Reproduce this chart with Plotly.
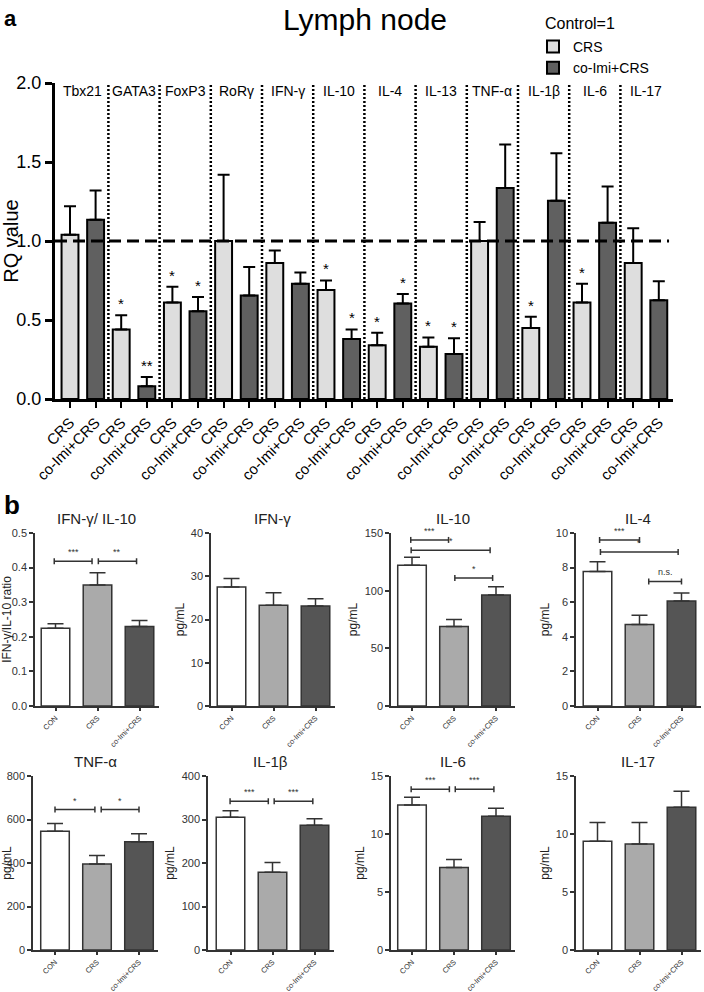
"""Lymph node RQ values (a) and cytokine levels (b) rebuilt with plotly."""

import plotly.graph_objects as go

W, H = 704, 992
FONT = "Liberation Sans, Arial, sans-serif"

# ---- panel a data -------------------------------------------------------
genes = ["Tbx21", "GATA3", "FoxP3", "RoR\u03b3", "IFN-\u03b3", "IL-10",
         "IL-4", "IL-13", "TNF-\u03b1", "IL-1\u03b2", "IL-6", "IL-17"]
crs_rq = [1.04, 0.44, 0.61, 1.00, 0.86, 0.69, 0.34, 0.33, 1.00, 0.45, 0.61, 0.86]
crs_err = [0.18, 0.09, 0.10, 0.42, 0.08, 0.06, 0.08, 0.06, 0.12, 0.07, 0.12, 0.22]
coimi_rq = [1.135, 0.08, 0.555, 0.655, 0.73, 0.38, 0.605, 0.285, 1.335, 1.255, 1.115, 0.625]
coimi_err = [0.185, 0.06, 0.09, 0.18, 0.07, 0.06, 0.06, 0.10, 0.275, 0.30, 0.23, 0.12]
crs_sig = ["", "*", "*", "", "", "*", "*", "*", "", "*", "*", ""]
coimi_sig = ["", "**", "*", "", "", "*", "*", "*", "", "", "", ""]
bar_labels = ["CRS", "co-Imi+CRS"]

# ---- panel b data -------------------------------------------------------
groups = ["CON", "CRS", "co-Imi+CRS"]
panel_titles = ["IFN-\u03b3/ IL-10", "IFN-\u03b3", "IL-10", "IL-4",
                "TNF-\u03b1", "IL-1\u03b2", "IL-6", "IL-17"]
panel_ytitles = ["IFN-\u03b3/IL-10 ratio"] + ["pg/mL"] * 7
means = [[0.225, 0.35, 0.23], [27.5, 23.3, 23.1], [122, 69, 96.3], [7.77, 4.71, 6.07],
         [546, 395, 498], [305, 179, 287], [12.49, 7.11, 11.54], [9.37, 9.14, 12.31]]
sems = [[0.013, 0.035, 0.017], [2.0, 2.9, 1.7], [7, 6, 7], [0.57, 0.54, 0.46],
        [36, 39, 37], [15, 22, 15], [0.68, 0.69, 0.69], [1.63, 1.86, 1.38]]
ymax = [0.5, 40, 150, 10, 800, 400, 15, 15]
dticks = [0.1, 10, 50, 2, 200, 100, 5, 5]
# significance brackets: (from, to, height, label)
brackets = [
    [(-0.03, 0.87, 0.418, "***"), (1.02, 1.93, 0.418, "**")],
    [],
    [(-0.03, 0.87, 144, "***"), (-0.02, 1.86, 135, "*"), (1.02, 1.92, 111, "*")],
    [(0.05, 1.0, 9.6, "***"), (0.07, 1.92, 8.9, "*"), (1.22, 2.0, 7.2, "n.s.")],
    [(0.0, 0.95, 646, "*"), (1.1, 2.0, 646, "*")],
    [(-0.01, 0.9, 342, "***"), (1.04, 1.96, 342, "***")],
    [(-0.02, 0.89, 13.86, "***"), (1.03, 1.95, 13.86, "***")],
    [],
]

group_colors = ["#ffffff", "#aaaaaa", "#555555"]
edge = "#333333"


def px(x):
    return x / W


def py(y):
    return 1 - y / H


fig = go.Figure()

# ---- panel a -------------------------------------------------------------
n_bars = 2 * len(genes)
xs_crs = [2 * i for i in range(len(genes))]
xs_coimi = [2 * i + 1 for i in range(len(genes))]
for xs, vals, errs, name, color in [
        (xs_crs, crs_rq, crs_err, "CRS", "#dedede"),
        (xs_coimi, coimi_rq, coimi_err, "co-Imi+CRS", "#606060")]:
    fig.add_trace(go.Bar(
        x=xs, y=vals, name=name, width=0.66,
        marker=dict(color=color, line=dict(color="black", width=2)),
        error_y=dict(type="data", symmetric=False, array=errs,
                     arrayminus=[0] * len(errs), color="black",
                     thickness=2, width=6),
        xaxis="x", yaxis="y",
    ))

annotations = []
for xs, vals, errs, sig in [(xs_crs, crs_rq, crs_err, crs_sig),
                            (xs_coimi, coimi_rq, coimi_err, coimi_sig)]:
    for x, v, e, s in zip(xs, vals, errs, sig):
        if s:
            annotations.append(dict(x=x, y=v + e, xref="x", yref="y", text=s,
                                    showarrow=False, yanchor="bottom", yshift=1,
                                    font=dict(size=15, color="black")))
for i, g in enumerate(genes):
    annotations.append(dict(x=2 * i + 0.5, y=1.95, xref="x", yref="y", text=g,
                            showarrow=False, xanchor="center", yanchor="middle",
                            font=dict(size=14, color="black")))

shapes = []
for i in range(1, len(genes)):
    shapes.append(dict(type="line", xref="x", yref="y", x0=2 * i - 0.5,
                       x1=2 * i - 0.5, y0=0, y1=2.0,
                       line=dict(color="black", width=2.5, dash="2px,2px")))
shapes.append(dict(type="line", xref="x", yref="y", x0=-0.586, x1=n_bars - 0.6,
                   y0=1, y1=1, line=dict(color="black", width=3, dash="12px,6px")))

top_x = (55, 673)
unit = 25.6
x0_val = (top_x[0] - 70) / unit
layout = dict(
    xaxis=dict(domain=[px(top_x[0]), px(top_x[1])],
               range=[x0_val, x0_val + (top_x[1] - top_x[0]) / unit],
               tickvals=list(range(n_bars)),
               ticktext=[bar_labels[i % 2] for i in range(n_bars)],
               tickangle=-45, ticks="outside", ticklen=6, tickwidth=2,
               tickcolor="black", showline=True, linewidth=3, linecolor="black",
               showgrid=False, zeroline=False, anchor="y", automargin=False,
               tickfont=dict(size=15, color="black")),
    yaxis=dict(domain=[py(399), py(83)], range=[0, 2], dtick=0.5,
               tickformat=".1f", ticks="outside", ticklen=7, tickwidth=3,
               tickcolor="black", showline=True, linewidth=3, linecolor="black",
               showgrid=False, zeroline=False, anchor="x", automargin=False,
               tickfont=dict(size=18, color="black"),
               title=dict(text="RQ value", font=dict(size=20, color="black"),
                          standoff=8)),
)

# ---- panel b -------------------------------------------------------------
lefts = [35, 211, 391, 576, 33, 208, 391, 576]
first_centers = [55.5, 231.5, 412, 597.5, 55, 230.5, 412, 597.5]
rows = [(533, 706)] * 4 + [(776, 950)] * 4
step = 42
for p in range(8):
    k = p + 2
    xa, ya = f"x{k}", f"y{k}"
    for g in range(3):
        fig.add_trace(go.Bar(
            x=[g], y=[means[p][g]], width=0.68, showlegend=False,
            marker=dict(color=group_colors[g], line=dict(color=edge, width=1.5)),
            error_y=dict(type="data", symmetric=False, array=[sems[p][g]],
                         arrayminus=[0], color=edge, thickness=1.5, width=8),
            xaxis=xa, yaxis=ya,
        ))
    L, c0 = lefts[p], first_centers[p]
    R = c0 + 2 * step + 19
    r0 = (L - c0) / step
    top, zero = rows[p]
    tick_fmt = ".1f" if p == 0 else "d"
    layout[f"xaxis{k}"] = dict(
        domain=[px(L), px(R)], range=[r0, r0 + (R - L) / step],
        tickvals=[0, 1, 2], ticktext=groups, tickangle=-45,
        ticks="outside", ticklen=3, tickwidth=1.5, tickcolor=edge,
        showline=True, linewidth=1.5, linecolor=edge, showgrid=False,
        zeroline=False, anchor=ya, automargin=False,
        tickfont=dict(size=7.5, color="#333333"))
    layout[f"yaxis{k}"] = dict(
        domain=[py(zero), py(top)], range=[0, ymax[p]], dtick=dticks[p],
        tickformat=tick_fmt, ticks="outside", ticklen=4, tickwidth=1.5,
        tickcolor=edge, showline=True, linewidth=1.5, linecolor=edge,
        showgrid=False, zeroline=False, anchor=xa, automargin=False,
        tickfont=dict(size=11, color="#333333"),
        title=dict(text=panel_ytitles[p], font=dict(size=12, color="#222222"),
                   standoff=4))
    annotations.append(dict(x=px((L + R) / 2), y=py(top - 15), xref="paper",
                            yref="paper", text=panel_titles[p], showarrow=False,
                            xanchor="center", yanchor="middle",
                            font=dict(size=15, color="#222222")))
    for b0, b1, by, lab in brackets[p]:
        shapes.append(dict(type="line", xref=xa, yref=ya, x0=b0, x1=b1,
                           y0=by, y1=by, line=dict(color=edge, width=1.5)))
        for bx in (b0, b1):
            shapes.append(dict(type="line", xref=xa, yref=ya, x0=bx, x1=bx,
                               ysizemode="pixel", yanchor=by, y0=-3, y1=3,
                               line=dict(color=edge, width=1.5)))
        annotations.append(dict(x=(b0 + b1) / 2, y=by, xref=xa, yref=ya,
                                text=lab, showarrow=False, yanchor="bottom",
                                yshift=2, font=dict(size=9, color="#333333")))

# titles and panel letters
annotations += [
    dict(x=px(365), y=py(20), xref="paper", yref="paper", text="Lymph node",
         showarrow=False, xanchor="center", yanchor="middle",
         font=dict(size=30, color="black")),
    dict(x=px(543), y=py(23), xref="paper", yref="paper", text="Control=1",
         showarrow=False, xanchor="left", yanchor="middle",
         font=dict(size=16, color="black")),
    dict(x=px(2), y=py(18), xref="paper", yref="paper", text="<b>a</b>",
         showarrow=False, xanchor="left", yanchor="middle",
         font=dict(size=22, color="black")),
    dict(x=px(2), y=py(505), xref="paper", yref="paper", text="<b>b</b>",
         showarrow=False, xanchor="left", yanchor="middle",
         font=dict(size=26, color="black")),
]

fig.update_layout(
    **layout,
    width=W, height=H,
    margin=dict(l=0, r=0, t=0, b=0, autoexpand=False),
    paper_bgcolor="white", plot_bgcolor="white",
    font=dict(family=FONT, color="black"),
    barmode="overlay",
    showlegend=True,
    legend=dict(x=px(533), y=py(31), xanchor="left", yanchor="top",
                font=dict(size=14), bgcolor="rgba(0,0,0,0)",
                tracegroupgap=0, itemwidth=30),
    annotations=annotations,
    shapes=shapes,
)

fig.write_html("out.html", config={"displayModeBar": False},
               post_script="document.body.style.margin = '0';")
